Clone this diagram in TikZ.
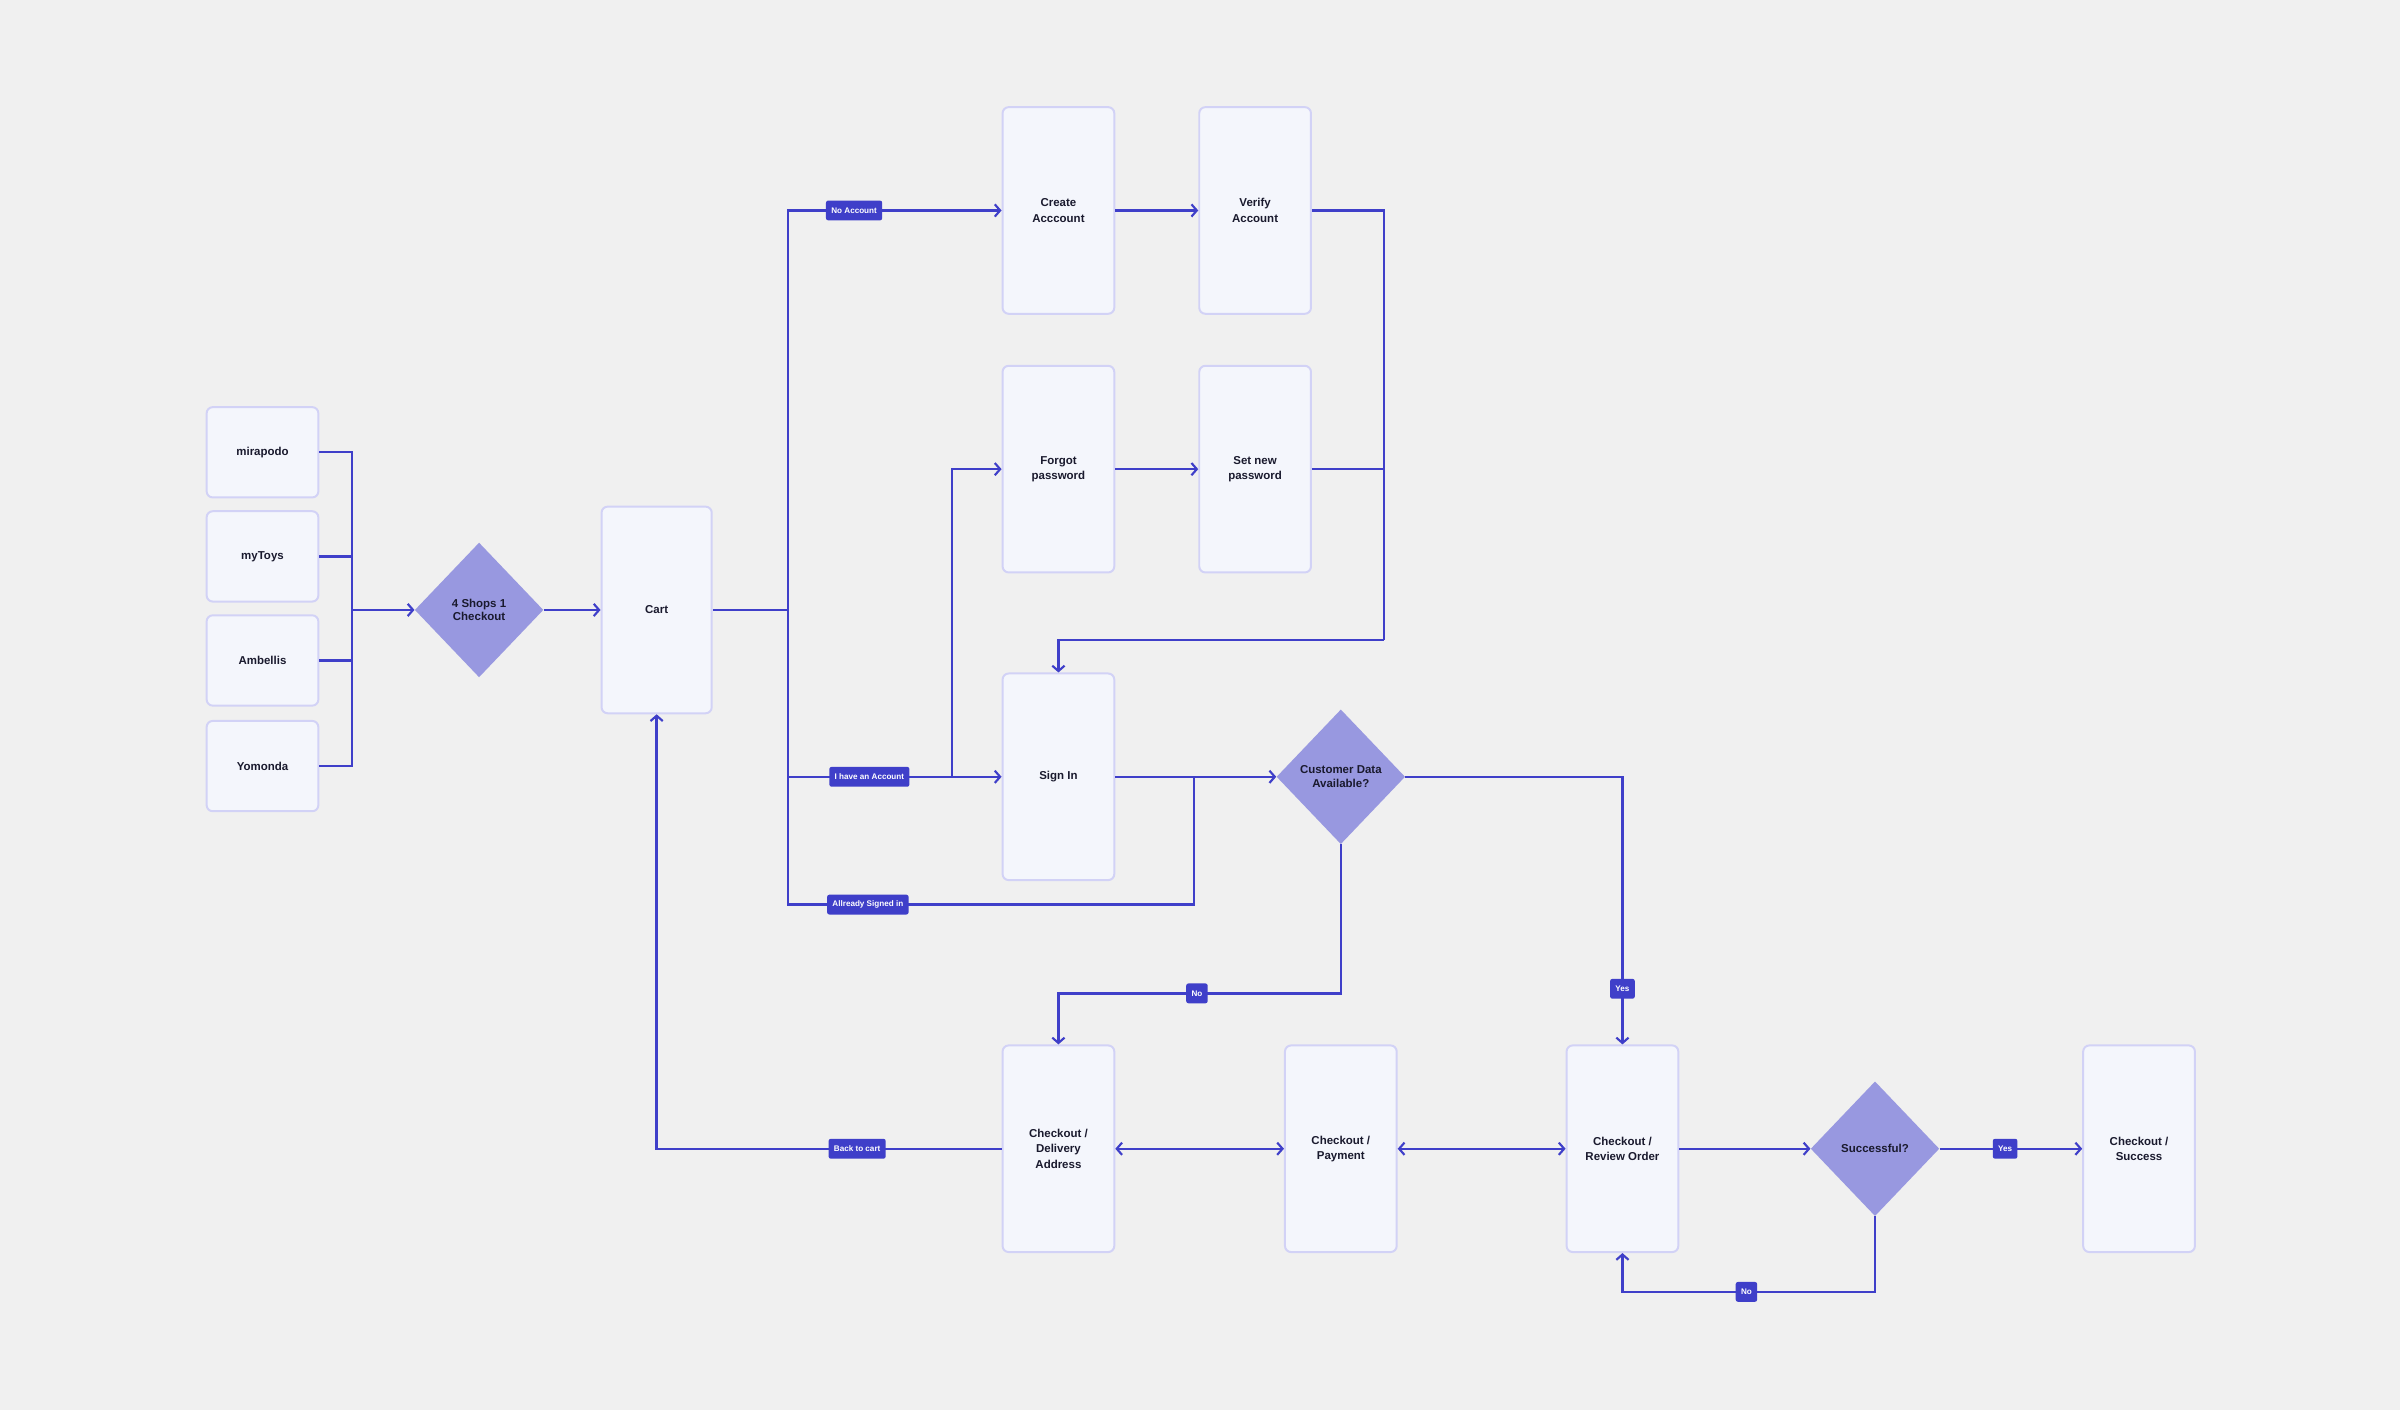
\documentclass[tikz,border=0pt]{standalone}
\usepackage{fontspec}
\setmainfont{Liberation Sans}
\usetikzlibrary{arrows.meta,shapes.geometric}
\definecolor{bg}{HTML}{F0F0F0}
\definecolor{boxf}{HTML}{F4F6FC}
\definecolor{boxd}{HTML}{D2D2F6}
\definecolor{ln}{HTML}{3F3FC9}
\definecolor{dia}{HTML}{9898E0}
\definecolor{txt}{HTML}{1A1A2E}
\begin{document}
\begin{tikzpicture}[x=1pt,y=-1pt,
  box/.style={draw=boxd,fill=boxf,line width=1.3pt,rounded corners=4pt,minimum width=73pt,minimum height=135pt,inner sep=0pt,align=center,font=\fontsize{7.5}{10}\selectfont\bfseries,text=txt},
  shop/.style={box,minimum height=59pt},
  dec/.style={diamond,fill=dia,minimum width=84pt,minimum height=88pt,inner sep=0pt,align=center,font=\fontsize{7.5}{9}\selectfont\bfseries,text=txt},
  lab/.style={fill=ln,text=white,rounded corners=1.5pt,font=\fontsize{5.3}{6}\selectfont\bfseries,inner xsep=3.5pt,minimum height=13pt,inner ysep=0pt},
  c/.style={draw=ln,line width=1.5pt},
  a/.style={c,-{Straight Barb[length=3.5pt,width=8pt,line width=1.4pt]}},
  aa/.style={c,{Straight Barb[length=3.5pt,width=8pt,line width=1.4pt]}-{Straight Barb[length=3.5pt,width=8pt,line width=1.4pt]}}]
\fill[bg] (0,0) rectangle (1568,921);
\useasboundingbox (0,0) rectangle (1568,921);
% nodes
\node[shop] (s1) at (171.5,295.5) {mirapodo};
\node[shop] (s2) at (171.5,363.5) {myToys};
\node[shop] (s3) at (171.5,431.5) {Ambellis};
\node[shop] (s4) at (171.5,500.5) {Yomonda};
\node[dec] (d1) at (313,398.5) {4 Shops 1\\Checkout};
\node[box,minimum width=72pt] (cart) at (429,398.5) {Cart};
\node[box] (create) at (691.5,137.5) {Create\\Acccount};
\node[box] (verify) at (820,137.5) {Verify\\Account};
\node[box] (forgot) at (691.5,306.5) {Forgot\\password};
\node[box] (setpw) at (820,306.5) {Set new\\password};
\node[box] (signin) at (691.5,507.5) {Sign In};
\node[dec] (cd) at (876,507.5) {Customer Data\\Available?};
\node[box] (del) at (691.5,750.5) {Checkout /\\Delivery\\Address};
\node[box] (pay) at (876,750.5) {Checkout /\\Payment};
\node[box] (rev) at (1060,750.5) {Checkout /\\Review Order};
\node[dec] (ok) at (1225,750.5) {Successful?};
\node[box] (succ) at (1397.5,750.5) {Checkout /\\Success};
\coordinate (bus) at (230,398.5);
\coordinate (tr) at (515,398.5);
\coordinate (j1) at (622,507.5);
\coordinate (j2) at (780,507.5);
\coordinate (rb) at (904,418);
% shops
\foreach \s in {s1,s2,s3,s4} \draw[c] (\s.east) -| (bus);
\draw[a] (bus) -- (d1.west);
\draw[a] (d1.east) -- (cart.west);
\draw[c] (cart.east) -- (tr);
% trunk
\draw[a] (tr) |- (558,137.5) node[lab]{No Account} -- (create.west);
\draw[a] (tr) |- (568,507.5) node[lab]{I have an Account} -- (signin.west);
\draw[a] (j1) |- (forgot.west);
\draw[c] (tr) |- (567,591) node[lab]{Allready Signed in} -- (780,591) -- (j2);
\draw[a] (create) -- (verify);
\draw[a] (forgot) -- (setpw);
\draw[c] (verify.east) -| (rb);
\draw[c] (setpw.east) -| (rb);
\draw[a] (rb) -| (signin.north);
\draw[a] (signin.east) -- (cd.west);
\draw[a] (cd.east) -| (1060,646) node[lab]{Yes} -- (rev.north);
\draw[a] (cd.south) |- (782,649) node[lab]{No} -| (del.north);
% bottom
\draw[a] (del.west) -- (560,750.5) node[lab]{Back to cart} -| (cart.south);
\draw[aa] (del) -- (pay);
\draw[aa] (pay) -- (rev);
\draw[a] (rev) -- (ok.west);
\draw[a] (ok.east) -- (1310,750.5) node[lab]{Yes} -- (succ.west);
\draw[a] (ok.south) |- (1141,844) node[lab]{No} -| (rev.south);
\end{tikzpicture}
\end{document}
